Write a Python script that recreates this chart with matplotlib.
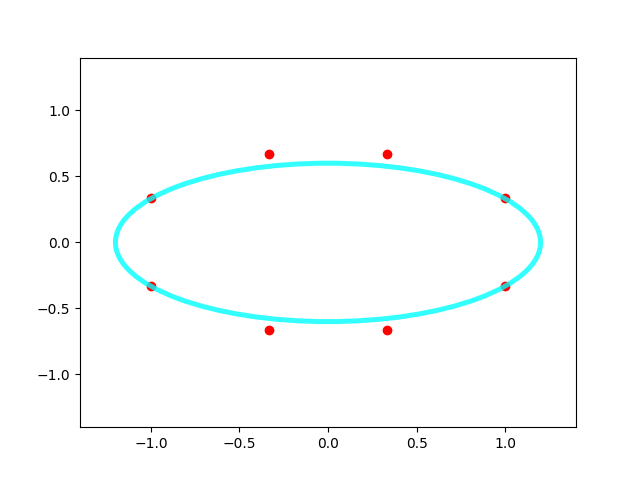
import matplotlib
matplotlib.use("Agg")
import matplotlib.pyplot as plt
from matplotlib.patches import Ellipse

# red reference points
red_x = [-1.0, -1/3, 1/3, 1.0, 1.0, 1/3, -1/3, -1.0]
red_y = [1/3, 2/3, 2/3, 1/3, -1/3, -2/3, -2/3, -1/3]

# fitted ellipse: center and full width/height
center = (0.0, 0.0)
ell_width = 2.4
ell_height = 1.2

fig, ax = plt.subplots(figsize=(6.4, 4.8), dpi=100)

ax.scatter(red_x, red_y, c='r', marker='o')

ell = Ellipse(center, ell_width, ell_height, fill=False,
              edgecolor='cyan', linewidth=3.6, alpha=0.8)
ax.add_patch(ell)

ax.set_xlim(-1.4, 1.4)
ax.set_ylim(-1.4, 1.4)
ax.set_xticks([-1.0, -0.5, 0.0, 0.5, 1.0])
ax.set_yticks([-1.0, -0.5, 0.0, 0.5, 1.0])

fig.savefig("out.png")
